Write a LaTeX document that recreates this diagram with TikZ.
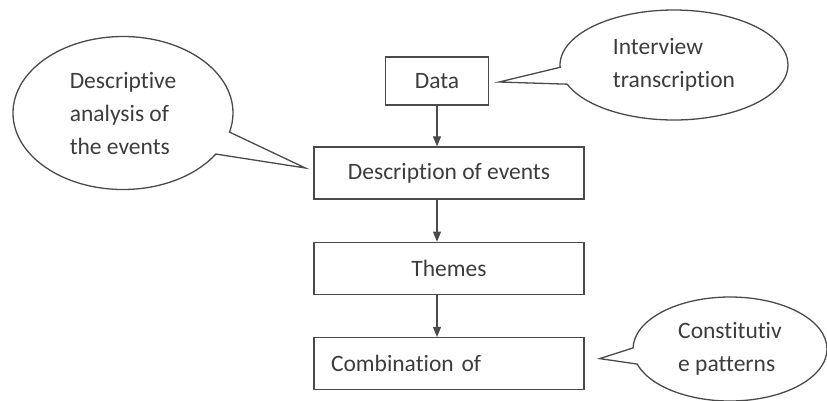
\documentclass[tikz,border=0pt]{standalone}
\usepackage{fontspec}
\setmainfont{Carlito}[Ligatures={NoCommon}]
\usetikzlibrary{positioning,shapes.callouts,arrows.meta,calc}
\definecolor{ink}{HTML}{3C3C3C}
\definecolor{rule}{HTML}{4A4A4A}
\tikzset{
    box/.style={draw=rule, line width=1.3pt, minimum width=270pt, minimum height=52pt, inner sep=0pt, text=ink},
    note/.style={ellipse callout, draw=rule, line width=1.3pt, align=left, text=ink, inner sep=0pt, callout pointer arc=18},
    flow/.style={draw=rule, line width=1.1pt, -{Triangle[length=10pt,width=8pt]}},
    node distance=42pt
}
\begin{document}
\begin{tikzpicture}[x=1pt,y=-1pt,font=\fontsize{23.5}{33}\selectfont]
    \useasboundingbox (0,0) rectangle (827,400);
    \node[box, minimum width=103pt, minimum height=48pt] (data) at (437,81) {Data};
    \node[box] (desc) at (449,173) {Description of events};
    \node[box, below = of desc] (themes) {Themes};
    \node[box, below = of themes, text width=236pt, inner xsep=17pt, align=left] (comb) {Combination of};

    \node[note, minimum width=220pt, minimum height=153pt,
        callout absolute pointer={($(desc.west)+(-8,-5)$)}] (descnote) at (123,113)
        {Descriptive\\analysis of\\the events};
    \node[note, minimum width=228pt, minimum height=110pt,
        callout absolute pointer={($(data.east)+(10,1)$)}] (datanote) at (674,65)
        {Interview\\transcription};
    \node[note, minimum width=194pt, minimum height=104pt,
        callout absolute pointer={($(comb.east)+(15,-5)$)}] (combnote) at (730,349)
        {Constitutiv\\e patterns};

    \draw
    (data.south) edge[flow] (data.south |- desc.north)
    (data.south |- desc.south) edge[flow] (data.south |- themes.north)
    (data.south |- themes.south) edge[flow] (data.south |- comb.north);
\end{tikzpicture}
\end{document}
